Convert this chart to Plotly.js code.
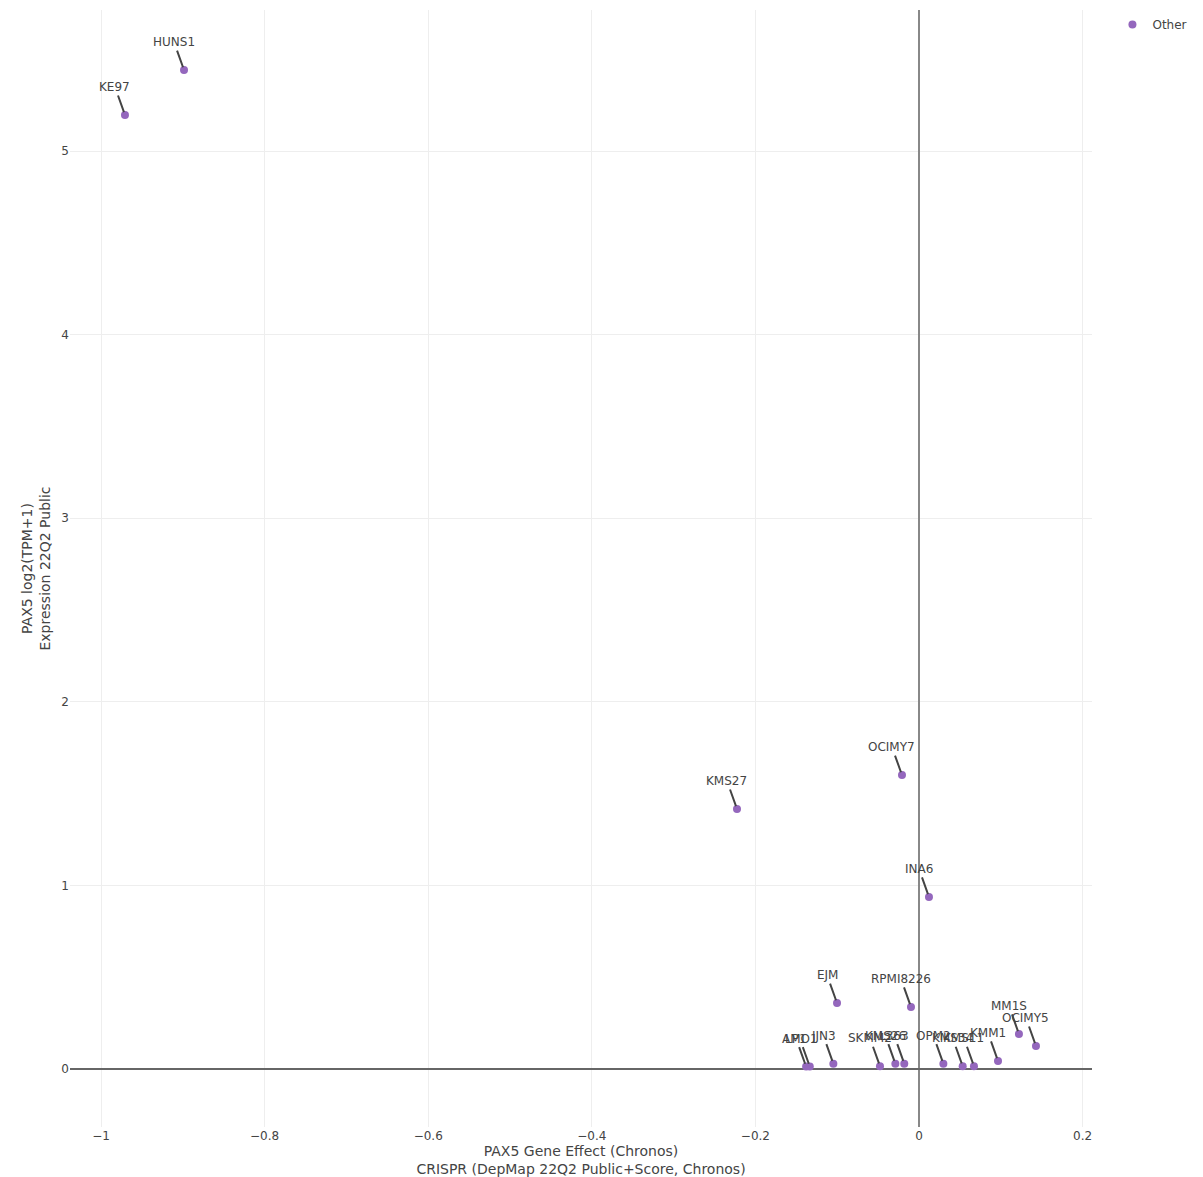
<!DOCTYPE html>
<html>
<head>
<meta charset="utf-8">
<script src="https://cdn.plot.ly/plotly-3.0.1.min.js"></script>
<style>html,body{margin:0;padding:0;background:#fff;}#chart{width:1203px;height:1177px;}</style>
</head>
<body>
<div id="chart"></div>
<script>
const cellLines = ["HUNS1","KE97","KMS27","OCIMY7","INA6","EJM","RPMI8226","MM1S","OCIMY5",
  "AMO1","LP1","JJN3","SKMM2","KMS26","L363","OPM2","KMS34","KMS11","KMM1"];
const geneEffect = [-0.8985,-0.9707,-0.2225,-0.0208,0.0122,-0.1002,-0.0098,0.1222,0.1430,
  -0.1335,-0.1380,-0.1047,-0.0477,-0.0289,-0.0180,0.0298,0.0534,0.0672,0.0966];
const expression = [5.441,5.196,1.416,1.601,0.937,0.359,0.338,0.191,0.125,
  0.013,0.013,0.029,0.015,0.029,0.029,0.029,0.015,0.015,0.044];
const legendName = "Other";
const xTitle = "PAX5 Gene Effect (Chronos)<br>CRISPR (DepMap 22Q2 Public+Score, Chronos)";
const yTitle = "PAX5 log2(TPM+1)<br>Expression 22Q2 Public";

const FONT = "DejaVu Sans, Verdana, sans-serif";

const trace = {
  type: "scatter", mode: "markers", name: legendName,
  x: geneEffect, y: expression, text: cellLines,
  marker: {color: "#9467bd", size: 8},
  showlegend: true
};

const annotations = cellLines.map((n, i) => ({
  x: geneEffect[i], y: expression[i], xref: "x", yref: "y",
  text: n, showarrow: true, arrowhead: 0, arrowwidth: 2, arrowcolor: "#444",
  ax: -10, ay: -28, standoff: 3,
  font: {family: FONT, size: 12, color: "#444"}
}));

const layout = {
  width: 1203, height: 1177,
  margin: {l: 70, r: 111, t: 10, b: 50},
  paper_bgcolor: "#fff", plot_bgcolor: "#fff",
  font: {family: FONT, size: 12, color: "#444"},
  showlegend: true,
  legend: {font: {family: FONT, size: 12, color: "#444"}},
  xaxis: {
    range: [-1.0379, 0.2115],
    tickvals: [-1, -0.8, -0.6, -0.4, -0.2, 0, 0.2],
    ticktext: ["\u22121", "\u22120.8", "\u22120.6", "\u22120.4", "\u22120.2", "0", "0.2"],
    showgrid: true, gridcolor: "#eeeeee", gridwidth: 1,
    zeroline: true, zerolinecolor: "#888", zerolinewidth: 2,
    showline: false, ticks: "",
    tickfont: {family: FONT, size: 12, color: "#444"},
    title: {text: xTitle, font: {family: FONT, size: 14, color: "#444"}, standoff: 6}
  },
  yaxis: {
    range: [-0.316, 5.768],
    tickvals: [0, 1, 2, 3, 4, 5],
    showgrid: true, gridcolor: "#eeeeee", gridwidth: 1,
    zeroline: true, zerolinecolor: "#666", zerolinewidth: 1.5,
    showline: false, ticks: "",
    tickfont: {family: FONT, size: 12, color: "#444"},
    title: {text: yTitle, font: {family: FONT, size: 14, color: "#444"}}
  },
  annotations: annotations
};

Plotly.newPlot("chart", [trace], layout, {displayModeBar: false, responsive: false});
</script>
</body>
</html>
